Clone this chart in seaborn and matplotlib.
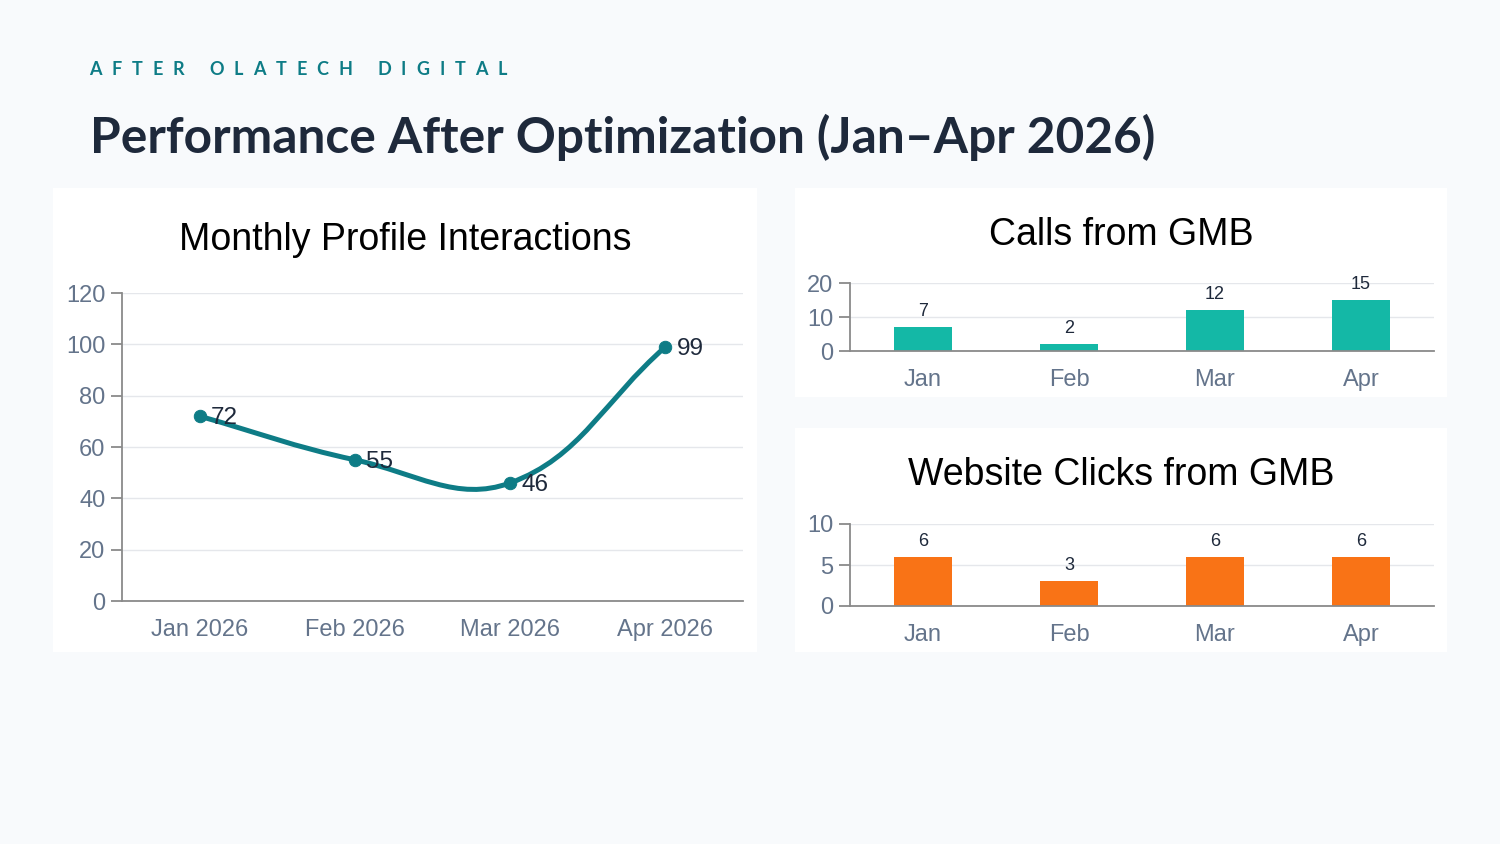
import numpy as np
import pandas as pd
import seaborn as sns
import matplotlib.pyplot as plt
from matplotlib.patches import Rectangle, PathPatch
from matplotlib.path import Path

# data
months_long = ['Jan 2026', 'Feb 2026', 'Mar 2026', 'Apr 2026']
interactions = [72, 55, 46, 99]
months_short = ['Jan', 'Feb', 'Mar', 'Apr']
calls = [7, 2, 12, 15]
clicks = [6, 3, 6, 6]

BG = '#f8fafc'
TEAL_LINE = '#0e7c86'
TEAL_BAR = '#14b8a6'
ORANGE = '#f97316'
TICK_C = '#64748b'
LABEL_C = '#1e293b'
AXIS_C = '#8a8a8a'
GRID_C = '#e5e7eb'

sns.set_theme(style='white')
plt.rcParams['font.family'] = ['Liberation Sans', 'DejaVu Sans']

W, H = 1500, 844
fig = plt.figure(figsize=(15, 8.44), dpi=100)
fig.patch.set_facecolor(BG)
renderer = fig.canvas.get_renderer()


def box(x0, y0, x1, y1):
    # pixel box (top-left origin) -> figure fraction rect
    return [x0 / W, 1 - y1 / H, (x1 - x0) / W, (y1 - y0) / H]


# white panels
for x0, y0, x1, y1 in [(53, 188, 757, 652), (795, 188, 1447, 397), (795, 428, 1447, 652)]:
    l, b, w, h = box(x0, y0, x1, y1)
    fig.add_artist(Rectangle((l, b), w, h, transform=fig.transFigure,
                             facecolor='white', edgecolor='none', zorder=0))

# header: letter-spaced kicker
sub = 'AFTER OLATECH DIGITAL'
lato = ['Lato', 'DejaVu Sans']
widths = []
for ch in sub:
    if ch == ' ':
        widths.append(5.0)
        continue
    tmp = fig.text(0, 0, ch, fontsize=13, fontweight='bold', family=lato)
    widths.append(tmp.get_window_extent(renderer).width)
    tmp.remove()
x_start, x_end = 89, 507
track = (x_end - x_start - sum(widths)) / (len(sub) - 1)
x = x_start
for ch, w in zip(sub, widths):
    if ch != ' ':
        fig.text(x / W, 1 - 75 / H, ch, fontsize=13, fontweight='bold',
                 color=TEAL_LINE, family=lato, ha='left', va='baseline')
    x += w + track

fig.text(90 / W, 1 - 153 / H, 'Performance After Optimization (Jan\u2013Apr 2026)',
         fontsize=35.7, fontweight='bold', color='#1e293b',
         family=lato, ha='left', va='baseline')


def style_axes(ax, ymax, step):
    ax.set_facecolor('white')
    ax.set_xlim(-0.5, 3.5)
    ax.set_ylim(0, ymax)
    ax.set_yticks(np.arange(0, ymax + step, step))
    ax.set_xticks(range(4))
    ax.set_xticks(np.arange(-0.5, 4, 1), minor=True)
    ax.tick_params(axis='x', which='major', length=0, pad=13, labelsize=17, labelcolor=TICK_C)
    ax.tick_params(axis='x', which='minor', length=8, width=1.3, color=AXIS_C, direction='out')
    ax.tick_params(axis='y', length=8, width=1.3, color=AXIS_C, pad=4, labelsize=17,
                   labelcolor=TICK_C, left=True)
    ax.grid(axis='y', color=GRID_C, lw=1)
    ax.set_axisbelow(True)
    for s in ['top', 'right']:
        ax.spines[s].set_visible(False)
    for s in ['left', 'bottom']:
        ax.spines[s].set_color(AXIS_C)
        ax.spines[s].set_linewidth(1.3)
    ax.set_xlabel('')
    ax.set_ylabel('')


# ---- line chart ----
ax1 = fig.add_axes(box(122, 293, 743, 601))
style_axes(ax1, 120, 20)
ax1.set_xticklabels(months_long)

# chart.js-like cubic spline (tension 0.4) computed in pixel space
sx, sy = 621 / 4, 308 / 120
pts = np.array([[i * sx, v * sy] for i, v in enumerate(interactions)])
t = 0.4
cps = []
for i in range(len(pts)):
    p0 = pts[max(i - 1, 0)]
    p1 = pts[i]
    p2 = pts[min(i + 1, len(pts) - 1)]
    d01 = np.hypot(*(p1 - p0))
    d12 = np.hypot(*(p1 - p2))
    tot = d01 + d12
    fa = t * d01 / tot
    fb = t * d12 / tot
    cps.append((p1 - fa * (p2 - p0), p1 + fb * (p2 - p0)))
verts = [pts[0]]
codes = [Path.MOVETO]
for i in range(1, len(pts)):
    verts += [cps[i - 1][1], cps[i][0], pts[i]]
    codes += [Path.CURVE4] * 3
verts = np.array(verts) / [sx, sy]
ax1.add_patch(PathPatch(Path(verts, codes), facecolor='none', edgecolor=TEAL_LINE,
                        lw=3.6, capstyle='round', zorder=3))
df_line = pd.DataFrame({'x': range(4), 'y': interactions})
sns.scatterplot(data=df_line, x='x', y='y', ax=ax1, color=TEAL_LINE, s=80,
                edgecolor=TEAL_LINE, zorder=4, legend=False)
for i, v in enumerate(interactions):
    ax1.annotate(str(v), (i, v), xytext=(8, -1.5), textcoords='offset points',
                 ha='left', va='center', fontsize=17.5, color=LABEL_C, zorder=5)
ax1.set_xlabel('')
ax1.set_ylabel('')
fig.text(405 / W, 1 - 240 / H, 'Monthly Profile Interactions', fontsize=27,
         color='black', ha='center', va='center')


# ---- bar charts ----
def bar_panel(rect, values, color, ymax, step, title, ty):
    ax = fig.add_axes(box(*rect))
    df = pd.DataFrame({'m': months_short, 'v': values})
    sns.barplot(data=df, x='m', y='v', ax=ax, color=color, width=0.4,
                saturation=1, edgecolor='none')
    style_axes(ax, ymax, step)
    ax.set_xticklabels(months_short)
    for i, v in enumerate(values):
        ax.annotate(str(v), (i, v), xytext=(0, 5), textcoords='offset points',
                    ha='center', va='bottom', fontsize=13, color=LABEL_C)
    fig.text(1121 / W, 1 - ty / H, title, fontsize=27, color='black',
             ha='center', va='center')
    return ax


bar_panel((850, 283, 1434, 351), calls, TEAL_BAR, 20, 10, 'Calls from GMB', 235)
bar_panel((850, 524, 1434, 606), clicks, ORANGE, 10, 5, 'Website Clicks from GMB', 475)

fig.savefig('out.png', dpi=100, facecolor=BG)
